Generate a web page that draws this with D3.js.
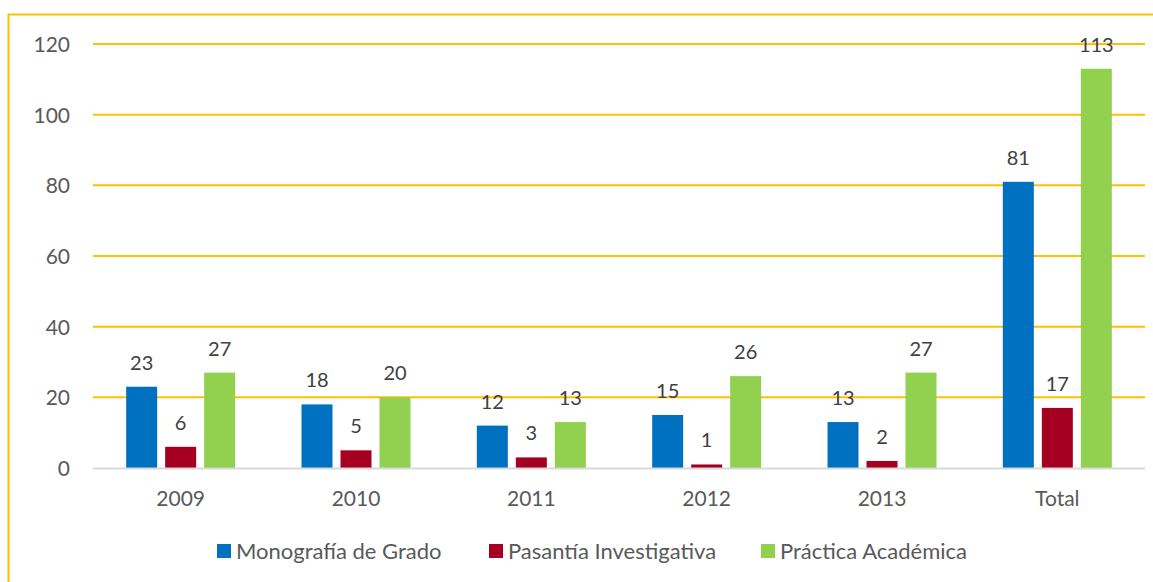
<!DOCTYPE html>
<html><head><meta charset="utf-8">
<script src="https://cdn.jsdelivr.net/npm/d3@7"></script>
<style>body{margin:0;background:#fff;} svg{display:block;}</style>
</head><body>
<script>
const categories = ["2009","2010","2011","2012","2013","Total"];
const seriesNames = ["Monografía de Grado","Pasantía Investigativa","Práctica Académica"];
const monografia = [23,18,12,15,13,81];
const pasantia = [6,5,3,1,2,17];
const practica = [27,20,13,26,27,113];
const yTicks = [0,20,40,60,80,100,120];
const colors = ["#0070c0","#a50021","#92d050"];

(function(){
const W=1153,H=582;
const svg=d3.select("body").append("svg").attr("width",W).attr("height",H);
const font="Lato, 'Open Sans', sans-serif";

// frame
svg.append("path").attr("d","M8.5,"+H+" V14.5 H"+W).attr("fill","none").attr("stroke","#ffc000").attr("stroke-width",2);

const pl=93,pr=1145,pt=44,pb=468;
const x=d3.scaleBand().domain(categories).range([pl,pr]);
const y=d3.scaleLinear().domain([0,120]).range([pb,pt]);
const barW=31, step=39;
const xs=d3.scaleBand().domain(seriesNames).range([-step*1.5,step*1.5]);

// gridlines
svg.append("g").selectAll("line").data(yTicks.filter(d=>d>0)).join("line")
 .attr("x1",pl).attr("x2",pr).attr("y1",d=>y(d)).attr("y2",d=>y(d))
 .attr("stroke","#ffc000").attr("stroke-width",2);

// y labels
const yAxis=d3.axisLeft(y).tickValues(yTicks).tickSize(0).tickPadding(0);
const gy=svg.append("g").attr("transform","translate(70,0)").call(yAxis);
gy.select(".domain").remove();
gy.selectAll("text").attr("font-family",font).attr("font-size",21).attr("fill","#595959").attr("dy","0.36em");

const data=[monografia,pasantia,practica];
data.forEach((vals,si)=>{
  const g=svg.append("g");
  g.selectAll("rect").data(vals).join("rect")
   .attr("x",(d,i)=>x(categories[i])+x.bandwidth()/2+xs(seriesNames[si])+(step-barW)/2)
   .attr("width",barW)
   .attr("y",d=>y(d)).attr("height",d=>pb-y(d)).attr("fill",colors[si]);
  g.selectAll("text").data(vals).join("text")
   .attr("x",(d,i)=>x(categories[i])+x.bandwidth()/2+xs(seriesNames[si])+step/2)
   .attr("y",d=>y(d)-17)
   .attr("text-anchor","middle").attr("font-family",font).attr("font-size",20).attr("fill","#404040")
   .text(d=>d);
});

// x axis line
svg.append("line").attr("x1",pl).attr("x2",pr).attr("y1",pb+0.5).attr("y2",pb+0.5).attr("stroke","#d9d9d9").attr("stroke-width",2);
const xAxis=d3.axisBottom(x).tickSize(0).tickPadding(0);
const gx=svg.append("g").attr("transform","translate(0,506)").call(xAxis);
gx.select(".domain").remove();
gx.selectAll("text").attr("font-family",font).attr("font-size",21).attr("fill","#595959").attr("dy","0");

// legend
const legX=[217,489,761];
const lg=svg.append("g");
seriesNames.forEach((n,i)=>{
  lg.append("rect").attr("x",legX[i]).attr("y",544).attr("width",14).attr("height",14).attr("fill",colors[i]);
  lg.append("text").attr("x",legX[i]+19).attr("y",559).attr("font-family",font).attr("font-size",22).attr("fill","#595959").text(n);
});
})();
</script>
</body></html>
